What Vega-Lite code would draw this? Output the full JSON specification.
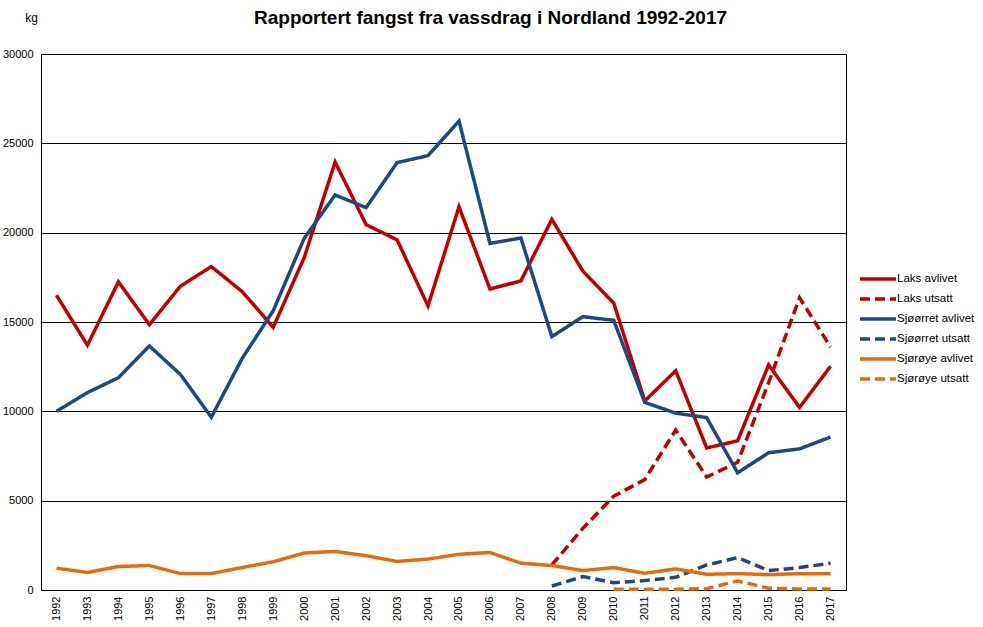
{
  "$schema": "https://vega.github.io/schema/vega-lite/v6.json",
  "width": 805,
  "height": 536,
  "autosize": {"type": "none"},
  "padding": {"left": 41, "top": 54, "right": 137, "bottom": 37},
  "background": "white",
  "title": {
    "text": "Rapportert fangst fra vassdrag i Nordland 1992-2017",
    "fontSize": 19,
    "fontWeight": "bold",
    "color": "black",
    "anchor": "middle",
    "baseline": "middle",
    "offset": 0,
    "dx": 47,
    "dy": 26
  },
  "data": {
    "values": [
      {"year": "1992", "serie": "Laks avlivet", "kg": 16500},
      {"year": "1993", "serie": "Laks avlivet", "kg": 13700},
      {"year": "1994", "serie": "Laks avlivet", "kg": 17250},
      {"year": "1995", "serie": "Laks avlivet", "kg": 14850},
      {"year": "1996", "serie": "Laks avlivet", "kg": 17000},
      {"year": "1997", "serie": "Laks avlivet", "kg": 18100},
      {"year": "1998", "serie": "Laks avlivet", "kg": 16700},
      {"year": "1999", "serie": "Laks avlivet", "kg": 14700},
      {"year": "2000", "serie": "Laks avlivet", "kg": 18600},
      {"year": "2001", "serie": "Laks avlivet", "kg": 23950},
      {"year": "2002", "serie": "Laks avlivet", "kg": 20450},
      {"year": "2003", "serie": "Laks avlivet", "kg": 19600},
      {"year": "2004", "serie": "Laks avlivet", "kg": 15900},
      {"year": "2005", "serie": "Laks avlivet", "kg": 21450},
      {"year": "2006", "serie": "Laks avlivet", "kg": 16850},
      {"year": "2007", "serie": "Laks avlivet", "kg": 17300},
      {"year": "2008", "serie": "Laks avlivet", "kg": 20750},
      {"year": "2009", "serie": "Laks avlivet", "kg": 17850},
      {"year": "2010", "serie": "Laks avlivet", "kg": 16050},
      {"year": "2011", "serie": "Laks avlivet", "kg": 10580},
      {"year": "2012", "serie": "Laks avlivet", "kg": 12270},
      {"year": "2013", "serie": "Laks avlivet", "kg": 7950},
      {"year": "2014", "serie": "Laks avlivet", "kg": 8350},
      {"year": "2015", "serie": "Laks avlivet", "kg": 12600},
      {"year": "2016", "serie": "Laks avlivet", "kg": 10220},
      {"year": "2017", "serie": "Laks avlivet", "kg": 12520},
      {"year": "2008", "serie": "Laks utsatt", "kg": 1400},
      {"year": "2009", "serie": "Laks utsatt", "kg": 3450},
      {"year": "2010", "serie": "Laks utsatt", "kg": 5250},
      {"year": "2011", "serie": "Laks utsatt", "kg": 6180},
      {"year": "2012", "serie": "Laks utsatt", "kg": 8950},
      {"year": "2013", "serie": "Laks utsatt", "kg": 6320},
      {"year": "2014", "serie": "Laks utsatt", "kg": 7150},
      {"year": "2015", "serie": "Laks utsatt", "kg": 11600},
      {"year": "2016", "serie": "Laks utsatt", "kg": 16360},
      {"year": "2017", "serie": "Laks utsatt", "kg": 13600},
      {"year": "1992", "serie": "Sjøørret avlivet", "kg": 10000},
      {"year": "1993", "serie": "Sjøørret avlivet", "kg": 11050},
      {"year": "1994", "serie": "Sjøørret avlivet", "kg": 11880},
      {"year": "1995", "serie": "Sjøørret avlivet", "kg": 13660},
      {"year": "1996", "serie": "Sjøørret avlivet", "kg": 12070},
      {"year": "1997", "serie": "Sjøørret avlivet", "kg": 9670},
      {"year": "1998", "serie": "Sjøørret avlivet", "kg": 12970},
      {"year": "1999", "serie": "Sjøørret avlivet", "kg": 15630},
      {"year": "2000", "serie": "Sjøørret avlivet", "kg": 19680},
      {"year": "2001", "serie": "Sjøørret avlivet", "kg": 22110},
      {"year": "2002", "serie": "Sjøørret avlivet", "kg": 21400},
      {"year": "2003", "serie": "Sjøørret avlivet", "kg": 23920},
      {"year": "2004", "serie": "Sjøørret avlivet", "kg": 24310},
      {"year": "2005", "serie": "Sjøørret avlivet", "kg": 26250},
      {"year": "2006", "serie": "Sjøørret avlivet", "kg": 19400},
      {"year": "2007", "serie": "Sjøørret avlivet", "kg": 19700},
      {"year": "2008", "serie": "Sjøørret avlivet", "kg": 14180},
      {"year": "2009", "serie": "Sjøørret avlivet", "kg": 15300},
      {"year": "2010", "serie": "Sjøørret avlivet", "kg": 15090},
      {"year": "2011", "serie": "Sjøørret avlivet", "kg": 10500},
      {"year": "2012", "serie": "Sjøørret avlivet", "kg": 9900},
      {"year": "2013", "serie": "Sjøørret avlivet", "kg": 9650},
      {"year": "2014", "serie": "Sjøørret avlivet", "kg": 6560},
      {"year": "2015", "serie": "Sjøørret avlivet", "kg": 7680},
      {"year": "2016", "serie": "Sjøørret avlivet", "kg": 7900},
      {"year": "2017", "serie": "Sjøørret avlivet", "kg": 8560},
      {"year": "2008", "serie": "Sjøørret utsatt", "kg": 225},
      {"year": "2009", "serie": "Sjøørret utsatt", "kg": 750},
      {"year": "2010", "serie": "Sjøørret utsatt", "kg": 410},
      {"year": "2011", "serie": "Sjøørret utsatt", "kg": 525},
      {"year": "2012", "serie": "Sjøørret utsatt", "kg": 710},
      {"year": "2013", "serie": "Sjøørret utsatt", "kg": 1400},
      {"year": "2014", "serie": "Sjøørret utsatt", "kg": 1815},
      {"year": "2015", "serie": "Sjøørret utsatt", "kg": 1085},
      {"year": "2016", "serie": "Sjøørret utsatt", "kg": 1255},
      {"year": "2017", "serie": "Sjøørret utsatt", "kg": 1500},
      {"year": "1992", "serie": "Sjørøye avlivet", "kg": 1220},
      {"year": "1993", "serie": "Sjørøye avlivet", "kg": 980},
      {"year": "1994", "serie": "Sjørøye avlivet", "kg": 1316},
      {"year": "1995", "serie": "Sjørøye avlivet", "kg": 1370},
      {"year": "1996", "serie": "Sjørøye avlivet", "kg": 920},
      {"year": "1997", "serie": "Sjørøye avlivet", "kg": 920},
      {"year": "1998", "serie": "Sjørøye avlivet", "kg": 1260},
      {"year": "1999", "serie": "Sjørøye avlivet", "kg": 1580},
      {"year": "2000", "serie": "Sjørøye avlivet", "kg": 2070},
      {"year": "2001", "serie": "Sjørøye avlivet", "kg": 2160},
      {"year": "2002", "serie": "Sjørøye avlivet", "kg": 1920},
      {"year": "2003", "serie": "Sjørøye avlivet", "kg": 1600},
      {"year": "2004", "serie": "Sjørøye avlivet", "kg": 1730},
      {"year": "2005", "serie": "Sjørøye avlivet", "kg": 2000},
      {"year": "2006", "serie": "Sjørøye avlivet", "kg": 2100},
      {"year": "2007", "serie": "Sjørøye avlivet", "kg": 1500},
      {"year": "2008", "serie": "Sjørøye avlivet", "kg": 1370},
      {"year": "2009", "serie": "Sjørøye avlivet", "kg": 1085},
      {"year": "2010", "serie": "Sjørøye avlivet", "kg": 1255},
      {"year": "2011", "serie": "Sjørøye avlivet", "kg": 935},
      {"year": "2012", "serie": "Sjørøye avlivet", "kg": 1180},
      {"year": "2013", "serie": "Sjørøye avlivet", "kg": 880},
      {"year": "2014", "serie": "Sjørøye avlivet", "kg": 915},
      {"year": "2015", "serie": "Sjørøye avlivet", "kg": 860},
      {"year": "2016", "serie": "Sjørøye avlivet", "kg": 915},
      {"year": "2017", "serie": "Sjørøye avlivet", "kg": 915},
      {"year": "2010", "serie": "Sjørøye utsatt", "kg": 40},
      {"year": "2011", "serie": "Sjørøye utsatt", "kg": 40},
      {"year": "2012", "serie": "Sjørøye utsatt", "kg": 40},
      {"year": "2013", "serie": "Sjørøye utsatt", "kg": 75},
      {"year": "2014", "serie": "Sjørøye utsatt", "kg": 505},
      {"year": "2015", "serie": "Sjørøye utsatt", "kg": 95},
      {"year": "2016", "serie": "Sjørøye utsatt", "kg": 60},
      {"year": "2017", "serie": "Sjørøye utsatt", "kg": 60}
    ]
  },
  "mark": {"type": "line", "strokeWidth": 3.5},
  "encoding": {
    "x": {
      "field": "year",
      "type": "ordinal",
      "scale": {"type": "point", "padding": 0.5},
      "axis": {
        "title": null,
        "labelAngle": -90,
        "labelFontSize": 11,
        "labelPadding": 6,
        "labelColor": "black",
        "ticks": false,
        "domainColor": "black",
        "grid": false
      }
    },
    "y": {
      "field": "kg",
      "type": "quantitative",
      "scale": {"domain": [0, 30000], "nice": false},
      "axis": {
        "title": "kg",
        "titleAngle": 0,
        "titleX": -10,
        "titleY": -37,
        "titleAlign": "center",
        "titleBaseline": "middle",
        "titleFontSize": 12,
        "titleFontWeight": "normal",
        "titleColor": "black",
        "values": [0, 5000, 10000, 15000, 20000, 25000, 30000],
        "format": "d",
        "labelFontSize": 11,
        "labelPadding": 8,
        "labelColor": "black",
        "ticks": false,
        "domainColor": "black",
        "grid": true,
        "gridColor": "black",
        "gridOpacity": 1
      }
    },
    "color": {
      "field": "serie",
      "type": "nominal",
      "sort": ["Laks avlivet", "Laks utsatt", "Sjøørret avlivet", "Sjøørret utsatt", "Sjørøye avlivet", "Sjørøye utsatt"],
      "scale": {
        "domain": ["Laks avlivet", "Laks utsatt", "Sjøørret avlivet", "Sjøørret utsatt", "Sjørøye avlivet", "Sjørøye utsatt"],
        "range": ["#C00000", "#C00000", "#1F497D", "#1F497D", "#E46C0A", "#E46C0A"]
      },
      "legend": {
        "title": null,
        "orient": "none",
        "legendX": 829,
        "legendY": 217,
        "padding": 0,
        "symbolType": "M-3,0H3",
        "symbolSize": 144,
        "symbolStrokeWidth": 3.5,
        "labelOffset": 11,
        "labelFontSize": 11.5,
        "labelColor": "black",
        "rowPadding": 5
      }
    },
    "strokeDash": {
      "field": "serie",
      "type": "nominal",
      "sort": ["Laks avlivet", "Laks utsatt", "Sjøørret avlivet", "Sjøørret utsatt", "Sjørøye avlivet", "Sjørøye utsatt"],
      "scale": {
        "domain": ["Laks avlivet", "Laks utsatt", "Sjøørret avlivet", "Sjøørret utsatt", "Sjørøye avlivet", "Sjørøye utsatt"],
        "range": [[1, 0], [10, 5], [1, 0], [10, 5], [1, 0], [10, 5]]
      },
      "legend": {
        "title": null,
        "orient": "none",
        "legendX": 829,
        "legendY": 217,
        "padding": 0,
        "symbolType": "M-3,0H3",
        "symbolSize": 144,
        "symbolStrokeWidth": 3.5,
        "labelOffset": 11,
        "labelFontSize": 11.5,
        "labelColor": "black",
        "rowPadding": 5
      }
    }
  },
  "config": {
    "font": "Liberation Sans",
    "view": {"stroke": "black", "strokeWidth": 1}
  }
}
